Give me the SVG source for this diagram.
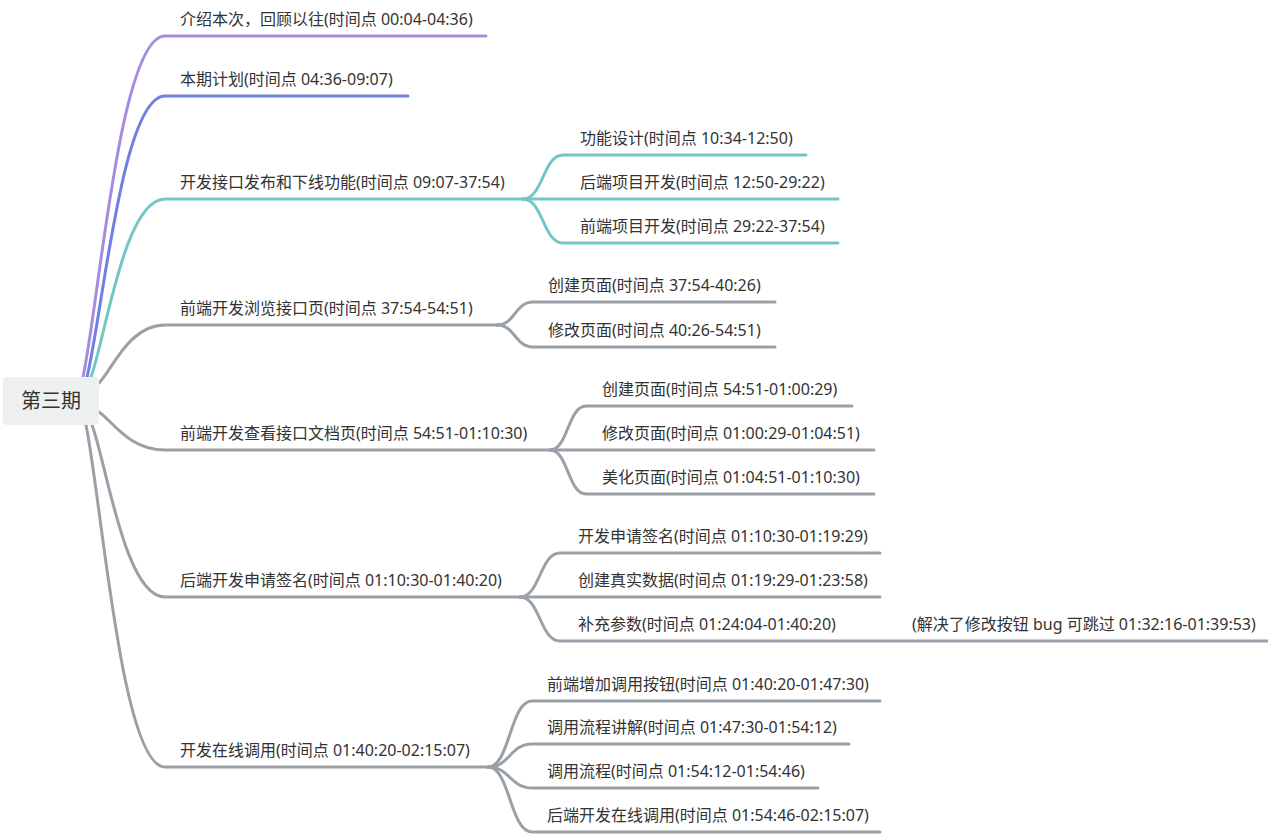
<svg xmlns="http://www.w3.org/2000/svg" width="1268" height="837" viewBox="0 0 1268 837">
<style>
text{font-family:"Noto Sans","Noto Sans CJK SC",sans-serif;fill:#333;font-size:16px}
.root{font-size:20px;text-anchor:middle}
path{fill:none;stroke-width:3;stroke-linecap:round}
.p{stroke:#a78be0}.b{stroke:#7080e0}.t{stroke:#72c6c6}.g{stroke:#9aa0a8}
</style>
<rect width="1268" height="837" fill="#ffffff"/>
<g id="connectors">
<path class="p" d="M83 377C99.4 300.3 119.9 36 165 36L486 36"/>
<path class="b" d="M87 377C102.6 313.8 122.1 96 165 96L408 96"/>
<path class="t" d="M91 377C105.8 337 124.3 199 165 199L523 199"/>
<path class="g" d="M99 383C112.2 370 128.7 325 165 325L497 325"/>
<path class="g" d="M99 412C112 420.5 128.7 450 165 450L550 450"/>
<path class="g" d="M92 425C106.6 463.7 124.9 597 165 597L520 597"/>
<path class="g" d="M86 425C101.8 502 121.6 767 165 767L488 767"/>
<path class="t" d="M523 199C543 199 543 155 563 155L806 155"/>
<path class="t" d="M523 199L838 199"/>
<path class="t" d="M523 199C543 199 543 243 563 243L838 243"/>
<path class="g" d="M497 325C515 325 515 302 533 302L775 302"/>
<path class="g" d="M497 325C515 325 515 347 533 347L775 347"/>
<path class="g" d="M550 450C568 450 568 406 586 406L852 406"/>
<path class="g" d="M550 450L874 450"/>
<path class="g" d="M550 450C568 450 568 494 586 494L874 494"/>
<path class="g" d="M520 597C540 597 540 553 560 553L880 553"/>
<path class="g" d="M520 597L880 597"/>
<path class="g" d="M520 597C540 597 540 641 560 641L1268 641"/>
<path class="g" d="M488 767C510 767 510 701 532 701L880 701"/>
<path class="g" d="M488 767C510 767 510 744 532 744L849 744"/>
<path class="g" d="M488 767C510 767 510 788 532 788L818 788"/>
<path class="g" d="M488 767C510 767 510 832 532 832L880 832"/>
</g>
<g id="root"><rect x="3" y="377" width="96" height="48" rx="4" fill="#eef0ef"/><text class="root" x="51" y="408">第三期</text></g>
<g id="n1"><text x="180" y="25">介绍本次，回顾以往(时间点 00:04-04:36)</text></g>
<g id="n2"><text x="180" y="85">本期计划(时间点 04:36-09:07)</text></g>
<g id="n3"><text x="180" y="188">开发接口发布和下线功能(时间点 09:07-37:54)</text></g>
<g id="n3a"><text x="580" y="144">功能设计(时间点 10:34-12:50)</text></g>
<g id="n3b"><text x="580" y="188">后端项目开发(时间点 12:50-29:22)</text></g>
<g id="n3c"><text x="580" y="232">前端项目开发(时间点 29:22-37:54)</text></g>
<g id="n4"><text x="180" y="314">前端开发浏览接口页(时间点 37:54-54:51)</text></g>
<g id="n4a"><text x="548" y="291">创建页面(时间点 37:54-40:26)</text></g>
<g id="n4b"><text x="548" y="336">修改页面(时间点 40:26-54:51)</text></g>
<g id="n5"><text x="180" y="439">前端开发查看接口文档页(时间点 54:51-01:10:30)</text></g>
<g id="n5a"><text x="602" y="395">创建页面(时间点 54:51-01:00:29)</text></g>
<g id="n5b"><text x="602" y="439">修改页面(时间点 01:00:29-01:04:51)</text></g>
<g id="n5c"><text x="602" y="483">美化页面(时间点 01:04:51-01:10:30)</text></g>
<g id="n6"><text x="180" y="586">后端开发申请签名(时间点 01:10:30-01:40:20)</text></g>
<g id="n6a"><text x="578" y="542">开发申请签名(时间点 01:10:30-01:19:29)</text></g>
<g id="n6b"><text x="578" y="586">创建真实数据(时间点 01:19:29-01:23:58)</text></g>
<g id="n6c"><text x="578" y="630">补充参数(时间点 01:24:04-01:40:20)</text><text x="912" y="630">(解决了修改按钮 bug 可跳过 01:32:16-01:39:53)</text></g>
<g id="n7"><text x="180" y="756">开发在线调用(时间点 01:40:20-02:15:07)</text></g>
<g id="n7a"><text x="547" y="690">前端增加调用按钮(时间点 01:40:20-01:47:30)</text></g>
<g id="n7b"><text x="547" y="733">调用流程讲解(时间点 01:47:30-01:54:12)</text></g>
<g id="n7c"><text x="547" y="777">调用流程(时间点 01:54:12-01:54:46)</text></g>
<g id="n7d"><text x="547" y="821">后端开发在线调用(时间点 01:54:46-02:15:07)</text></g>
</svg>
